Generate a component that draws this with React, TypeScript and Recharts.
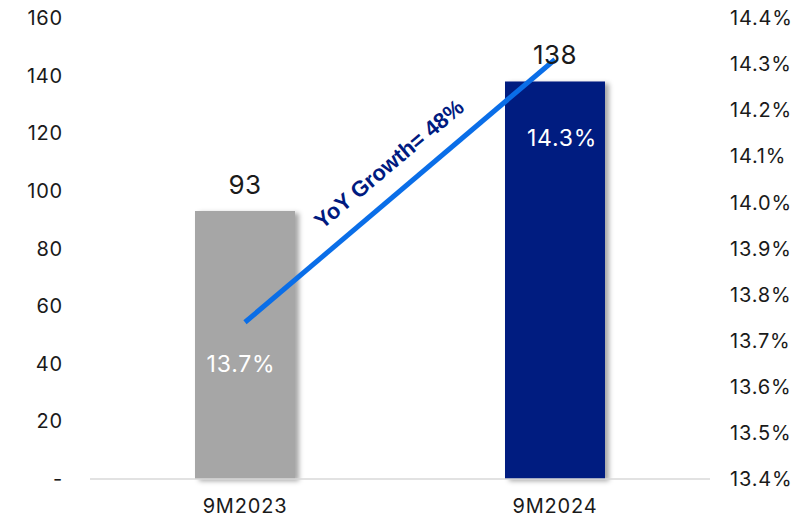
import React from "react";
import {
    ComposedChart,
    Bar,
    Line,
    XAxis,
    YAxis,
    LabelList,
    Customized,
} from "recharts";

const periods = ["9M2023", "9M2024"];
const volumes = [93, 138];
const ratios = [13.74, 14.31];
const ratioLabels = ["13.7%", "14.3%"];
const leftTicks = [0, 20, 40, 60, 80, 100, 120, 140, 160];
const rightTicks = [13.4, 13.5, 13.6, 13.7, 13.8, 13.9, 14.0, 14.1, 14.2, 14.3, 14.4];
const barColors = ["#a6a6a6", "#001a80"];

const data = periods.map((p, i) => ({
    period: p,
    volume: volumes[i],
    ratio: ratios[i],
    fill: barColors[i],
}));

const growth = Math.round((volumes[1] / volumes[0] - 1) * 100);

const FONT = "Inter, 'Noto Sans', sans-serif";
const tickStyle = { fill: "#1a1a1a", fontSize: 20, fontFamily: FONT, letterSpacing: 0.8 };

// white ratio labels drawn inside the bars, below the line points
const labelShift = [
    { dx: -4, dy: 42 },
    { dx: 7, dy: 79 },
];

const RatioLabel = (props: any) => {
    const { x, y, index } = props;
    const s = labelShift[index] || { dx: 0, dy: 0 };
    return (
        <text
            x={x + s.dx}
            y={y + s.dy}
            textAnchor="middle"
            dominantBaseline="central"
            fill="#ffffff"
            fontSize={23}
            fontFamily={FONT}
            letterSpacing={0.8}
        >
            {ratioLabels[index]}
        </text>
    );
};

const GrowthNote = () => (
    <text
        x={389}
        y={164}
        textAnchor="middle"
        dominantBaseline="central"
        transform="rotate(-40 389 164)"
        fill="#001a80"
        fontSize={22}
        fontWeight="bold"
        fontFamily="'Liberation Sans', Arial, sans-serif"
    >
        {`YoY Growth= ${growth}%`}
    </text>
);

export default function App() {
    return (
        <div style={{ position: "absolute", left: 0, top: 0, background: "#fff" }}>
            <ComposedChart
                width={811}
                height={521}
                data={data}
                margin={{ top: 18, right: 0, bottom: 0, left: 0 }}
            >
                <defs>
                    <filter id="barShadow" x="-20%" y="-20%" width="150%" height="150%">
                        <feDropShadow dx="4" dy="2" stdDeviation="2.5" floodColor="#000" floodOpacity="0.35" />
                    </filter>
                </defs>
                <XAxis
                    dataKey="period"
                    height={42}
                    tickLine={false}
                    axisLine={{ stroke: "#d9d9d9", strokeWidth: 1.5 }}
                    tick={tickStyle}
                    tickMargin={14}
                />
                <YAxis
                    yAxisId="left"
                    width={90}
                    domain={[0, 160]}
                    ticks={leftTicks}
                    tickLine={false}
                    axisLine={false}
                    tick={tickStyle}
                    tickMargin={21}
                    tickFormatter={(v: number) => (v === 0 ? "-" : String(v))}
                />
                <YAxis
                    yAxisId="right"
                    orientation="right"
                    width={101}
                    domain={[13.4, 14.4]}
                    ticks={rightTicks}
                    tickLine={false}
                    axisLine={false}
                    tick={tickStyle}
                    tickMargin={14}
                    tickFormatter={(v: number) => `${v.toFixed(1)}%`}
                />
                <Bar
                    yAxisId="left"
                    dataKey="volume"
                    barSize={100}
                    filter="url(#barShadow)"
                    isAnimationActive={false}
                >
                    <LabelList
                        dataKey="volume"
                        position="top"
                        offset={17}
                        fill="#1a1a1a"
                        fontSize={26}
                        fontFamily={FONT}
                        letterSpacing={0.5}
                    />
                </Bar>
                <Line
                    yAxisId="right"
                    dataKey="ratio"
                    stroke="#0a6ee8"
                    strokeWidth={5}
                    dot={false}
                    activeDot={false}
                    isAnimationActive={false}
                >
                    <LabelList dataKey="ratio" content={<RatioLabel />} />
                </Line>
                <Customized component={GrowthNote} />
            </ComposedChart>
        </div>
    );
}
